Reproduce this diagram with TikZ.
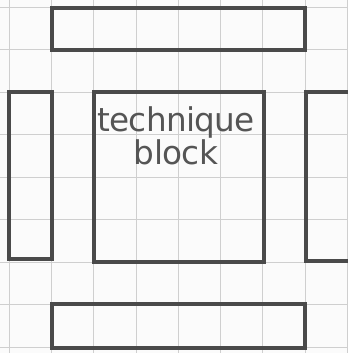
\documentclass[tikz,border=0pt]{standalone}
\usepackage{fontspec}
\setmainfont{DejaVu Sans}
\definecolor{gridc}{HTML}{CFCFCF}
\definecolor{pen}{HTML}{4A4A4A}
\definecolor{ink}{HTML}{555555}
\begin{document}
\begin{tikzpicture}[x=0.75pt,y=-0.75pt,
  box/.style={draw=pen,line width=2.6pt,rectangle,inner sep=0pt,outer sep=0pt},
  gridline/.style={draw=gridc,line width=0.6pt},
  hand/.style={text=ink,font=\fontsize{24.5}{22.5}\selectfont\addfontfeatures{LetterSpace=-2},align=center,inner sep=0pt}]
\useasboundingbox (0,0) rectangle (348,353);
\begin{scope}
\clip (0,0) rectangle (348,353);
\fill[white!97!gray] (0,0) rectangle (348,353);
\foreach \i in {0,...,8} {
  \draw[gridline] ({9+42.3*\i},0) -- ({9+42.3*\i},353);
  \draw[gridline] (0,{7+42.5*\i}) -- (348,{7+42.5*\i});
}
\node[box,minimum width=189.75pt,minimum height=31.5pt] (top) at (178.5,29) {};
\node[box,minimum width=32.25pt,minimum height=125.25pt] (left) at (30.5,175.5) {};
\node[box,minimum width=127.5pt,minimum height=127.5pt] (center) at (179,177) {};
\node[box,minimum width=40.5pt,minimum height=126.75pt] (right) at (333,176.5) {};
\node[box,minimum width=189.75pt,minimum height=33pt] (bottom) at (178.5,326) {};
\node[hand] (label) at (176,136) {technique\\block};
\end{scope}
\end{tikzpicture}
\end{document}
